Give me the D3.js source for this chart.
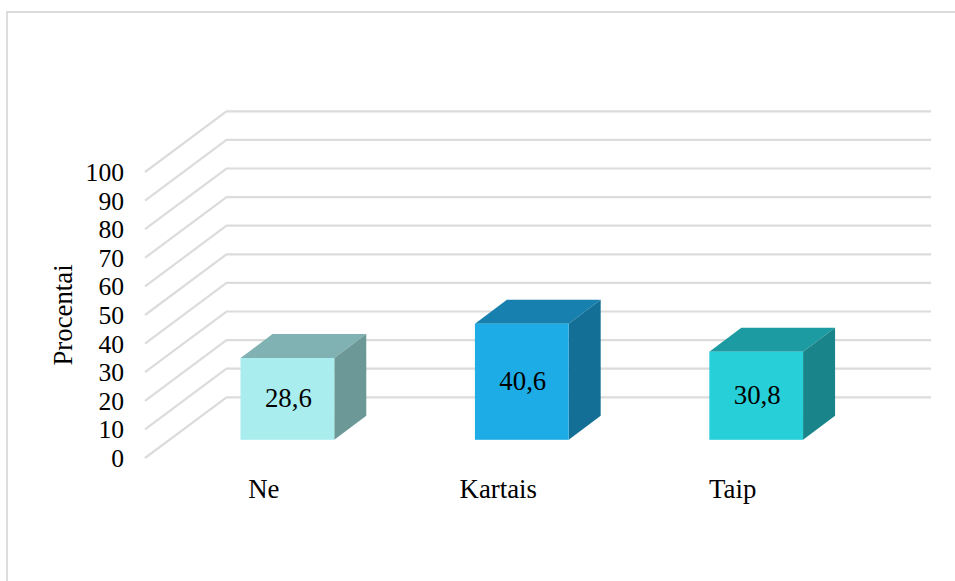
<!DOCTYPE html>
<html><head><meta charset="utf-8">
<script src="https://cdn.jsdelivr.net/npm/d3@7"></script>
<style>html,body{margin:0;padding:0;background:#fff}svg{display:block}text{font-family:"Liberation Serif","Times New Roman",serif;fill:#000}</style>
</head><body><svg id="c" width="955" height="581"></svg>
<script>
const categories=["Ne","Kartais","Taip"];
const values=[28.6,40.6,30.8];
const labels=["28,6","40,6","30,8"];
const frontColors=["#a9edee","#1eace6","#27cfd9"];
const topColors=["#81b2b3","#1780ae","#1d9ba2"];
const sideColors=["#6c9898","#136f95","#19858b"];
const ticks=[0,10,20,30,40,50,60,70,80,90,100];

const svg=d3.select("#c");
const W=955,H=581,fs=26.8,fsTick=25.6;
// frame
svg.append("path").attr("d",`M${W+2},12H7V${H+2}`).attr("fill","none").attr("stroke","#dadada").attr("stroke-width",1.8);

const yFront=d3.scaleLinear().domain([0,100]).range([458,172]);
const yBack=d3.scaleLinear().domain([0,100]).range([397.3,111.3]);
const yBar=d3.scaleLinear().domain([0,100]).range([439.8,153.8]);
const x=d3.scaleBand().domain(categories).range([170.2,873.4]).paddingInner(0.6).paddingOuter(0.3);
const xFront=145,xBack=226.5,xEnd=931,dx=32,dy=24;

// grid
const grid=svg.append("g");
grid.selectAll("path").data(ticks).join("path")
 .attr("d",t=>`M${xFront},${yFront(t)}L${xBack},${yBack(t)}H${xEnd}`)
 .attr("fill","none").attr("stroke","#dcdcdc").attr("stroke-width",2.2);

// y axis
const yAxis=d3.axisLeft(yFront).tickValues(ticks).tickSize(0).tickPadding(0);
const ga=svg.append("g").attr("transform","translate(124,0)").call(yAxis);
ga.select(".domain").remove();
ga.selectAll("text").attr("font-size",fsTick).style("font-family",'"Liberation Serif",serif').attr("fill","#000").attr("dy","0.33em");

// bars
const xc=categories.map((c,i)=>({c,i,v:values[i]}));
const bars=svg.append("g").selectAll("g").data(xc).join("g");
const bw=x.bandwidth();
bars.append("path").attr("fill",d=>topColors[d.i]).attr("d",d=>{
 const l=x(d.c),t=yBar(d.v);return `M${l},${t}l${dx},${-dy}h${bw}l${-dx},${dy}Z`;});
bars.append("path").attr("fill",d=>sideColors[d.i]).attr("d",d=>{
 const r=x(d.c)+bw,t=yBar(d.v),b=yBar(0);return `M${r},${t}l${dx},${-dy}V${b-dy}l${-dx},${dy}Z`;});
bars.append("rect").attr("fill",d=>frontColors[d.i])
 .attr("x",d=>x(d.c)).attr("y",d=>yBar(d.v)).attr("width",bw).attr("height",d=>yBar(0)-yBar(d.v));
bars.append("text").attr("text-anchor","middle").attr("font-size",fs)
 .attr("x",d=>x(d.c)+bw/2+1).attr("y",d=>(yBar(d.v)+yBar(0))/2+8.5)
 .text(d=>labels[d.i]);

// category labels
svg.append("g").selectAll("text").data(xc).join("text")
 .attr("text-anchor","middle").attr("font-size",fs)
 .attr("x",d=>x(d.c)+bw/2-23.5).attr("y",497.5).text(d=>d.c);

// axis title
svg.append("text").attr("text-anchor","middle").attr("font-size",fs)
 .attr("transform","translate(71.5,315) rotate(-90)").text("Procentai");
</script></body></html>
